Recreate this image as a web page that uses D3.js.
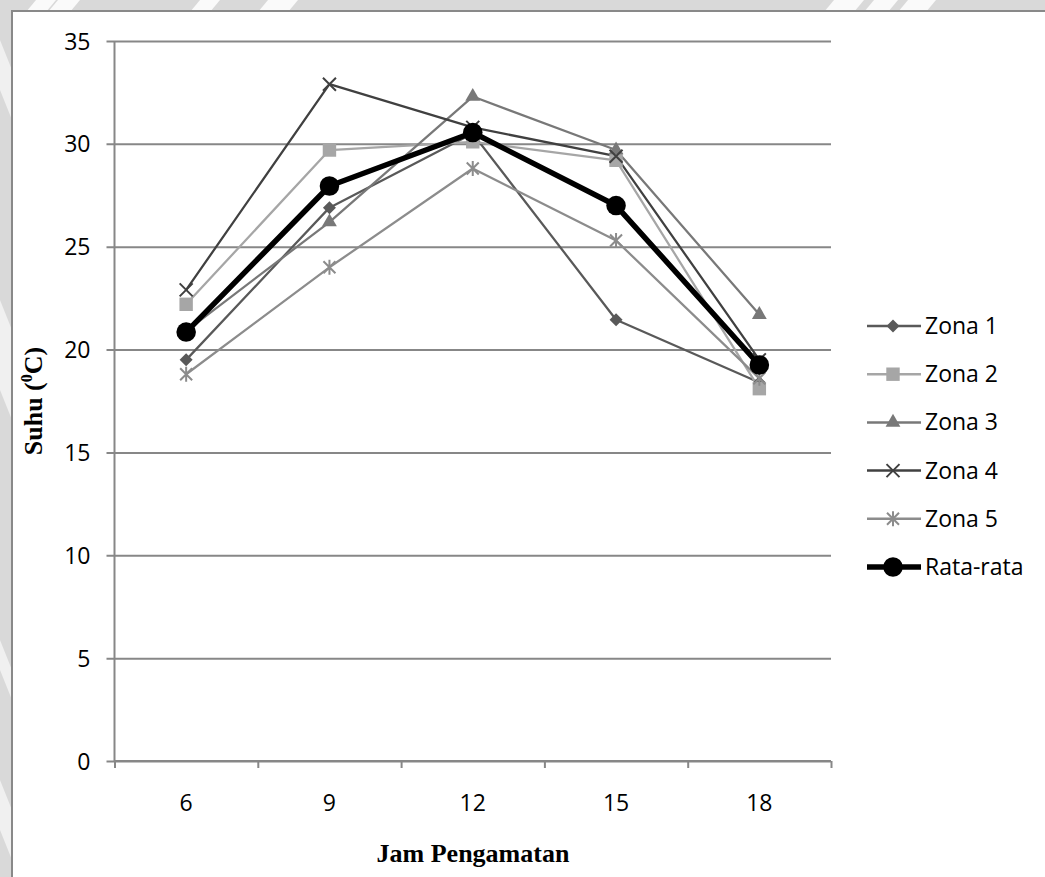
<!DOCTYPE html>
<html lang="id">
<head>
<meta charset="UTF-8">
<title>Suhu per Jam Pengamatan</title>
<style>
  html, body { margin: 0; padding: 0; background: #fff; }
  svg { display: block; }
  .tick-label { font-family: "Open Sans", sans-serif; font-size: 23px; fill: #000; }
  .axis-title { font-family: "Liberation Serif", "Times New Roman", serif; font-weight: bold; font-size: 26px; fill: #000; }
</style>
</head>
<body>
<script src="https://d3js.org/d3.v7.min.js"></script>
<script>
// ---- data ----
const hours = ["6", "9", "12", "15", "18"];
const zona1 = [19.5, 26.9, 30.5, 21.45, 18.4];
const zona2 = [22.2, 29.7, 30.1, 29.2, 18.1];
const zona3 = [20.9, 26.2, 32.3, 29.7, 21.7];
const zona4 = [22.9, 32.9, 30.8, 29.4, 19.5];
const zona5 = [18.8, 24.0, 28.8, 25.3, 18.6];
const rataRata = [20.85, 27.95, 30.55, 27.0, 19.25];
const yTicks = [0, 5, 10, 15, 20, 25, 30, 35];
const seriesNames = ["Zona 1", "Zona 2", "Zona 3", "Zona 4", "Zona 5", "Rata-rata"];

const W = 1045, H = 877;
const plotLeft = 114.5, plotRight = 831, plotTop = 41, plotBottom = 761;

const series = [
  { name: seriesNames[0], values: zona1, color: "#595959", marker: "diamond", width: 2.25 },
  { name: seriesNames[1], values: zona2, color: "#a6a6a6", marker: "square", width: 2.25 },
  { name: seriesNames[2], values: zona3, color: "#787878", marker: "triangle", width: 2.25 },
  { name: seriesNames[3], values: zona4, color: "#404040", marker: "x", width: 2.25 },
  { name: seriesNames[4], values: zona5, color: "#8c8c8c", marker: "star", width: 2.25 },
  { name: seriesNames[5], values: rataRata, color: "#000000", marker: "circle", width: 5.5 }
];

const svg = d3.select("body").append("svg").attr("width", W).attr("height", H);

// grey page background with faint watermark strokes, then the white chart frame
svg.append("rect").attr("width", W).attr("height", H).attr("fill", "#d9d9d9");
const marks = [[30, 50], [52, 74], [194, 214], [262, 292], [828, 858], [868, 892], [902, 930]];
svg.selectAll("polygon.wm").data(marks).enter().append("polygon")
  .attr("class", "wm")
  .attr("points", d => `${d[0] + 6},0 ${d[1] + 6},0 ${d[1] - 4},12 ${d[0] - 4},12`)
  .attr("fill", "#fff").attr("opacity", 0.85);
const sideMarks = [[40, 120], [300, 420], [640, 700], [780, 860]];
svg.selectAll("polygon.ws").data(sideMarks).enter().append("polygon")
  .attr("class", "ws")
  .attr("points", d => `0,${d[0]} 12,${d[0] + 30} 12,${d[1]} 0,${d[1] - 30}`)
  .attr("fill", "#fff").attr("opacity", 0.6);
svg.append("rect").attr("x", 12).attr("y", 11).attr("width", W + 20).attr("height", H + 20)
  .attr("fill", "#fff").attr("stroke", "#898989").attr("stroke-width", 2);

const x = d3.scaleBand().domain(hours).range([plotLeft, plotRight]);
const y = d3.scaleLinear().domain([0, 35]).range([plotBottom, plotTop]);
const cx = d => x(d) + x.bandwidth() / 2;

// gridlines + y axis
const yAxis = d3.axisLeft(y).tickValues(yTicks).tickSize(-(plotRight - plotLeft)).tickPadding(0).tickFormat(d3.format("d"));
const gy = svg.append("g").attr("transform", `translate(${plotLeft},0)`).call(yAxis);
gy.select(".domain").remove();
gy.selectAll(".tick line").attr("stroke", "#878787").attr("stroke-width", 2).attr("x1", -8);
gy.selectAll(".tick text").attr("class", "tick-label").attr("x", -24).attr("dy", "0.35em");
gy.attr("font-family", null).attr("font-size", null);
svg.append("line").attr("x1", plotLeft).attr("x2", plotLeft).attr("y1", plotTop).attr("y2", plotBottom)
  .attr("stroke", "#878787").attr("stroke-width", 2);

// x axis: ticks on band edges, labels at band centres
const xEdge = d3.scaleLinear().domain([0, hours.length]).range([plotLeft, plotRight]);
const gx = svg.append("g").attr("transform", `translate(0,${plotBottom})`)
  .call(d3.axisBottom(xEdge).tickValues(d3.range(hours.length + 1)).tickSize(7).tickFormat(""));
gx.select(".domain").attr("stroke", "#878787").attr("stroke-width", 2).attr("d", `M${plotLeft},0H${plotRight}`);
gx.selectAll(".tick line").attr("stroke", "#878787").attr("stroke-width", 2);
svg.append("g").selectAll("text").data(hours).enter().append("text")
  .attr("class", "tick-label").attr("text-anchor", "middle")
  .attr("x", d => cx(d)).attr("y", 811).text(d => d);

// axis titles
svg.append("text").attr("class", "axis-title").attr("text-anchor", "middle")
  .attr("x", 473).attr("y", 862).text("Jam Pengamatan");
const yt = svg.append("text").attr("class", "axis-title").attr("text-anchor", "middle")
  .attr("transform", "translate(42,401) rotate(-90)");
yt.append("tspan").text("Suhu (");
yt.append("tspan").attr("font-size", 16).attr("dy", -10).text("0");
yt.append("tspan").attr("dy", 10).text("C)");

// markers
function markerPath(type) {
  if (type === "diamond") return "M0,-6.5L6.5,0L0,6.5L-6.5,0Z";
  if (type === "square") return d3.symbol(d3.symbolSquare, 180)();
  if (type === "triangle") return d3.symbol(d3.symbolTriangle, 95)();
  if (type === "circle") return d3.symbol(d3.symbolCircle, 300)();
  if (type === "x") return "M-6.5,-6.5L6.5,6.5M-6.5,6.5L6.5,-6.5";
  return "M-6,-6L6,6M-6,6L6,-6M0,-7.5L0,7.5";
}
function drawMarker(g, s) {
  const stroked = s.marker === "x" || s.marker === "star";
  g.append("path").attr("d", markerPath(s.marker))
    .attr("fill", stroked ? "none" : s.color)
    .attr("stroke", stroked ? s.color : "none")
    .attr("stroke-width", stroked ? 2 : 0);
}

const line = d3.line().x((d, i) => cx(hours[i])).y(d => y(d));
series.forEach(s => {
  svg.append("path").datum(s.values).attr("d", line).attr("fill", "none")
    .attr("stroke", s.color).attr("stroke-width", s.width).attr("stroke-linejoin", "round");
});
series.forEach(s => {
  s.values.forEach((v, i) => {
    const g = svg.append("g").attr("transform", `translate(${cx(hours[i])},${y(v)})`);
    drawMarker(g, s);
  });
});

// legend
const lg = svg.append("g");
series.forEach((s, i) => {
  const row = lg.append("g").attr("transform", `translate(0,${326 + i * 48.2})`);
  row.append("line").attr("x1", 867).attr("x2", 921).attr("stroke", s.color)
    .attr("stroke-width", s.marker === "circle" ? 5.5 : 2.5);
  drawMarker(row.append("g").attr("transform", "translate(893,0)"), s);
  row.append("text").attr("class", "tick-label").attr("x", 925).attr("dy", "0.35em").text(s.name);
});
</script>
</body>
</html>
